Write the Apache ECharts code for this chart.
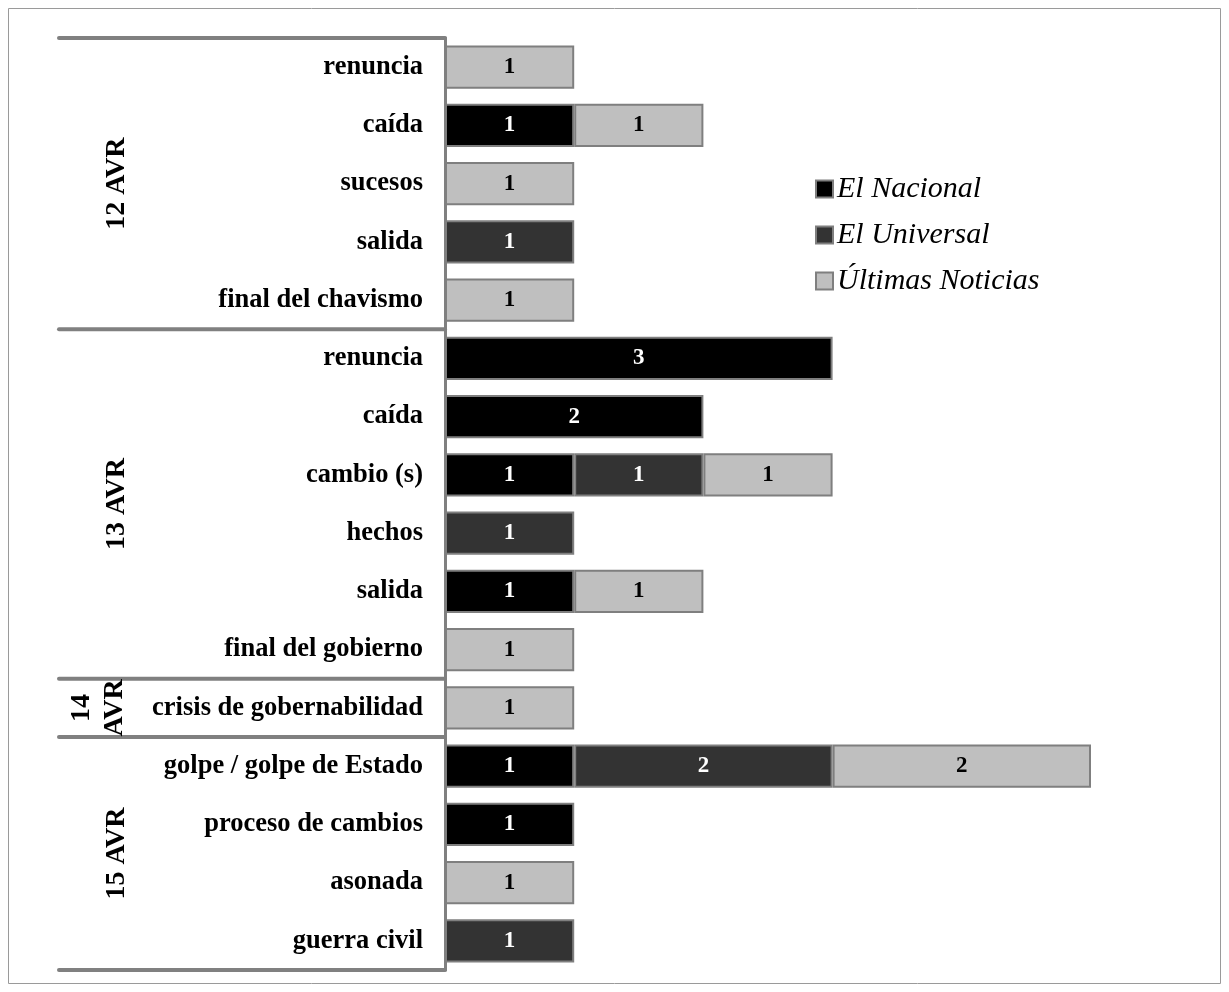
<!DOCTYPE html>
<html>
<head>
<meta charset="utf-8">
<script src="https://cdn.jsdelivr.net/npm/echarts@6/dist/echarts.min.js"></script>
<style>
html,body{margin:0;padding:0;background:#fff;}
#main{width:1229px;height:992px;}
</style>
</head>
<body>
<div id="main"></div>
<script>
// ---- data ----
const groups = ["12 AVR", "13 AVR", "14 AVR", "15 AVR"];
const groupSizes = [5, 6, 1, 4];
const categories = [
  "renuncia", "caída", "sucesos", "salida", "final del chavismo",
  "renuncia", "caída", "cambio (s)", "hechos", "salida", "final del gobierno",
  "crisis de gobernabilidad",
  "golpe / golpe de Estado", "proceso de cambios", "asonada", "guerra civil"
];
const seriesNames = ["El Nacional", "El Universal", "Últimas Noticias"];
const elNacional      = [0, 1, 0, 0, 0,  3, 2, 1, 0, 1, 0,  0,  1, 1, 0, 0];
const elUniversal     = [0, 0, 0, 1, 0,  0, 0, 1, 1, 0, 0,  0,  2, 0, 0, 1];
const ultimasNoticias = [1, 1, 1, 0, 1,  0, 0, 1, 0, 1, 1,  1,  2, 0, 1, 0];

// ---- chart ----
const FONT = "'Liberation Serif', 'Times New Roman', serif";
const colors = ["#000000", "#333333", "#bfbfbf"];
const labelColors = ["#ffffff", "#ffffff", "#000000"];
const values = [elNacional, elUniversal, ultimasNoticias];
const catKeys = categories.map((c, i) => i + "|" + c);

const chart = echarts.init(document.getElementById('main'), null, {renderer: 'canvas'});

const option = {
  animation: false,
  backgroundColor: '#ffffff',
  grid: {left: 445, right: 138, top: 38, bottom: 22, containLabel: false},
  legend: {
    orient: 'vertical',
    left: 810,
    top: 169,
    itemWidth: 17,
    itemHeight: 17,
    itemGap: 16,
    icon: 'rect',
    textStyle: {fontFamily: FONT, fontStyle: 'italic', fontSize: 30, lineHeight: 30, color: '#000', padding: [0,0,0,-1]},
    data: seriesNames
  },
  xAxis: {type: 'value', min: 0, max: 5, show: false},
  yAxis: {
    type: 'category',
    inverse: true,
    data: catKeys,
    axisLine: {show: true, lineStyle: {color: '#808080', width: 3}},
    axisTick: {show: false},
    splitLine: {show: false},
    axisLabel: {
      margin: 22,
      fontFamily: FONT, fontWeight: 'bold', fontSize: 26.5, color: '#000',
      formatter: v => v.slice(v.indexOf('|') + 1)
    }
  },
  series: seriesNames.map((name, s) => ({
    name: name,
    type: 'bar',
    stack: 'total',
    barCategoryGap: '26%',
    itemStyle: {color: colors[s], borderColor: '#7f7f7f', borderWidth: 2},
    label: {
      show: true, position: 'inside',
      fontFamily: FONT, fontWeight: 'bold', fontSize: 23, color: labelColors[s]
    },
    data: values[s].map(v => v === 0 ? '-' : v)
  }))
};
chart.setOption(option);

// ---- group separators & labels (positions derived from the category axis) ----
function drawGroups() {
  const c0 = chart.convertToPixel({yAxisIndex: 0}, catKeys[0]);
  const c1 = chart.convertToPixel({yAxisIndex: 0}, catKeys[1]);
  const band = c1 - c0;
  const axisX = chart.convertToPixel({xAxisIndex: 0}, 0);
  const elements = [];
  elements.push({
    type: 'rect', shape: {x: 8.5, y: 8.5, width: 1212, height: 975},
    style: {fill: null, stroke: '#9a9a9a', lineWidth: 1}, z: 0
  });
  let start = 0;
  const boundaries = [c0 - band / 2];
  const gFont = 'bold 28px ' + FONT;
  groupSizes.forEach((n, g) => {
    const top = c0 + (start - 0.5) * band;
    const bottom = c0 + (start + n - 0.5) * band;
    boundaries.push(bottom);
    const mid = (top + bottom) / 2;
    if (n > 1) {
      elements.push({
        type: 'text', x: 117, y: mid, rotation: Math.PI / 2,
        style: {text: groups[g], font: gFont, fill: '#000', align: 'center', verticalAlign: 'middle'}, z: 10
      });
    } else {
      const parts = groups[g].split(' ');
      elements.push({
        type: 'text', x: 82, y: mid, rotation: Math.PI / 2,
        style: {text: parts[0], font: gFont, fill: '#000', align: 'center', verticalAlign: 'middle'}, z: 10
      });
      elements.push({
        type: 'text', x: 115, y: mid, rotation: Math.PI / 2,
        style: {text: parts[1], font: gFont, fill: '#000', align: 'center', verticalAlign: 'middle'}, z: 10
      });
    }
    start += n;
  });
  boundaries.forEach(y => {
    elements.push({
      type: 'line', shape: {x1: 59, y1: y, x2: axisX, y2: y},
      style: {stroke: '#808080', lineWidth: 4, lineCap: 'round'}, z: 5
    });
  });
  chart.setOption({graphic: {elements: elements}});
}
drawGroups();
</script>
</body>
</html>
